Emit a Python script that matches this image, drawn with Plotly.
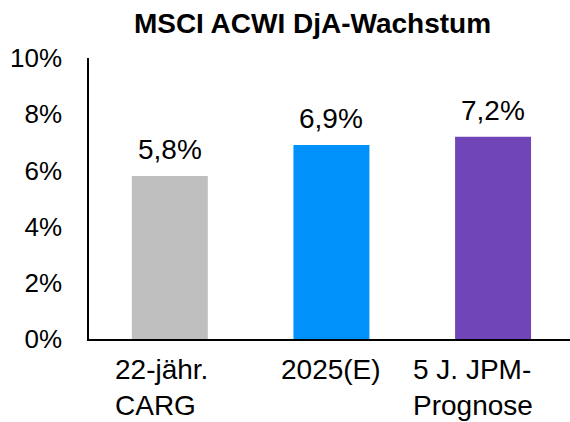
import plotly.graph_objects as go

categories = ["22-jähr.<br>CARG", "2025(E)", "5 J. JPM-<br>Prognose"]
values = [5.8, 6.9, 7.2]
colors = ["#BFBFBF", "#0091FA", "#7045B8"]
title = "MSCI ACWI DjA-Wachstum"
ytick_vals = [0, 2, 4, 6, 8, 10]
ytick_text = [f"{v}%" for v in ytick_vals]

FONT = "Liberation Sans, Arial, sans-serif"
xpos = list(range(len(categories)))

fig = go.Figure()
fig.add_trace(go.Bar(
    x=xpos, y=values, marker=dict(color=colors, line=dict(width=0)),
    width=0.47, hoverinfo="skip",
))

annotations = []
for i, v in enumerate(values):
    annotations.append(dict(
        x=i, y=v, xref="x", yref="y", text=f"{v:.1f}%".replace(".", ","),
        showarrow=False, yanchor="bottom", yshift=9,
        font=dict(family=FONT, size=28, color="#000000"),
    ))
label_shift = [-8, 0, -20]
for i, c in enumerate(categories):
    annotations.append(dict(
        x=i, y=0, xref="x", yref="paper", text=c, align="left",
        showarrow=False, yanchor="top", yshift=-13, xshift=label_shift[i],
        font=dict(family=FONT, size=28, color="#000000"),
    ))

fig.update_layout(
    width=570, height=422,
    margin=dict(l=89, r=0, t=58, b=83, autoexpand=False),
    paper_bgcolor="white", plot_bgcolor="white",
    showlegend=False,
    font=dict(family=FONT, color="#000000"),
    title=dict(text=f"<b>{title}</b>", x=312.5 / 570, xanchor="center",
               xref="container", y=1 - 23 / 422, yanchor="middle",
               yref="container", font=dict(family=FONT, size=28, color="#000000")),
    xaxis=dict(range=[-0.5, 2.476], showticklabels=False, showgrid=False,
               zeroline=False, showline=True, linecolor="#000000", linewidth=1.5,
               ticks="", fixedrange=True, automargin=False),
    yaxis=dict(range=[0, 10], tickvals=ytick_vals, ticktext=ytick_text, showgrid=False,
               zeroline=False, showline=True, linecolor="#000000", linewidth=1.5,
               ticks="", ticklabelstandoff=20, automargin=False, fixedrange=True,
               tickfont=dict(family=FONT, size=26, color="#000000")),
    annotations=annotations,
)

fig.write_html(
    "out.html",
    config={"displayModeBar": False},
    post_script="document.body.style.margin='0px';document.body.style.overflow='hidden';",
)
